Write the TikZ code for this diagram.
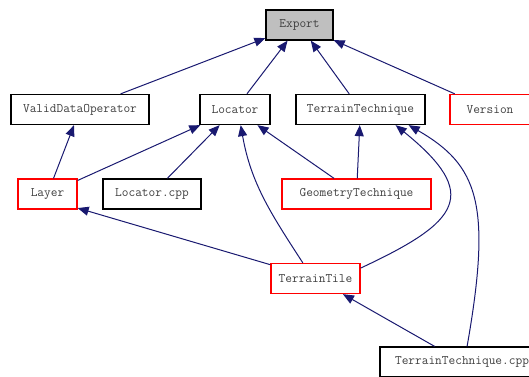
\documentclass[tikz,border=0pt]{standalone}
\usetikzlibrary{arrows.meta}
\definecolor{edgeblue}{HTML}{191970}
\definecolor{boxgray}{HTML}{BFBFBF}
\definecolor{boxred}{HTML}{FF0000}

\begin{document}
\begin{tikzpicture}[x=1pt, y=1pt,
  cls/.style={draw=black, line width=1.3pt, fill=white, minimum height=30pt,
    inner sep=0pt, font=\fontsize{13}{15}\selectfont\ttfamily, text=black!75},
  undoc/.style={cls, draw=boxred},
  edge/.style={-{Triangle[length=11pt, width=9pt]}, edgeblue, line width=1pt}]
  \useasboundingbox (0,0) rectangle (529,376);
  % classes, top to bottom
  \node[cls, fill=boxgray, minimum width=67pt] (export) at (299.5,351) {Export};
  \node[cls, minimum width=138pt] (vdo) at (80,266.5) {ValidDataOperator};
  \node[cls, minimum width=70pt] (locator) at (235,266.5) {Locator};
  \node[cls, minimum width=129pt] (ttech) at (360.5,266.5) {TerrainTechnique};
  \node[undoc, minimum width=80pt] (version) at (490,266.5) {Version};
  \node[undoc, minimum width=59pt] (layer) at (47.5,182) {Layer};
  \node[cls, minimum width=98pt] (loccpp) at (152,182) {Locator.cpp};
  \node[undoc, minimum width=149pt] (geomtech) at (356.5,182) {GeometryTechnique};
  \node[undoc, minimum width=89pt] (tile) at (315.5,97.5) {TerrainTile};
  \node[cls, minimum width=164pt] (ttcpp) at (462,14) {TerrainTechnique.cpp};

  % straight dependencies
  \foreach \from/\to in {vdo/export, locator/export, ttech/export, version/export,
                         layer/vdo, layer/locator, loccpp/locator,
                         geomtech/locator, geomtech/ttech, ttcpp/tile}
    \draw[edge] (\from) -- (\to);
  \draw[edge] (tile.163) -- (layer.-25);

  % curved dependencies
  \draw[edge] (tile.129) .. controls +(123:59) and +(-80:59) .. (locator.-70);
  \draw[edge] (tile.13) .. controls +(25:110) and +(-39:110) .. (ttech.-24);
  \draw[edge] (ttcpp.72) .. controls +(80:145) and +(-30:80) .. (ttech.-18);
\end{tikzpicture}
\end{document}
